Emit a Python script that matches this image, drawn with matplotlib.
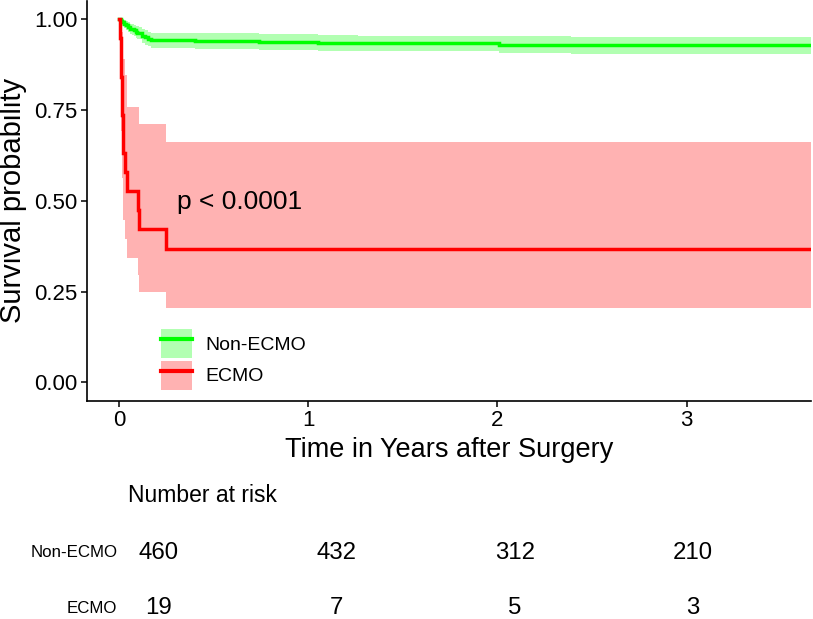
import matplotlib
matplotlib.use("Agg")
import matplotlib.pyplot as plt
from matplotlib.patches import Patch
from matplotlib.lines import Line2D

plt.rcParams["font.family"] = ["Liberation Sans", "DejaVu Sans"]

# Kaplan-Meier steps (time in years)
nonecmo_time = [0, 0.008, 0.016, 0.025, 0.035, 0.045, 0.055, 0.065, 0.075, 0.085,
                0.095, 0.106, 0.120, 0.135, 0.150, 0.168, 0.40, 0.74, 1.05, 1.26,
                2.01, 2.39, 3.66]
nonecmo_surv = [1.000, 0.996, 0.991, 0.987, 0.983, 0.978, 0.974, 0.972, 0.970, 0.965,
                0.963, 0.961, 0.954, 0.950, 0.946, 0.942, 0.940, 0.937, 0.935, 0.933,
                0.930, 0.928, 0.928]
nonecmo_upper = [1.000, 1.000, 1.000, 0.997, 0.995, 0.991, 0.988, 0.987, 0.985, 0.982,
                 0.980, 0.979, 0.973, 0.970, 0.966, 0.963, 0.962, 0.959, 0.957, 0.955,
                 0.953, 0.951, 0.951]
nonecmo_lower = [1.000, 0.990, 0.982, 0.977, 0.971, 0.965, 0.960, 0.957, 0.955, 0.949,
                 0.946, 0.944, 0.935, 0.930, 0.926, 0.921, 0.918, 0.915, 0.913, 0.911,
                 0.907, 0.905, 0.905]

ecmo_time = [0, 0.003, 0.006, 0.009, 0.012, 0.015, 0.018, 0.021, 0.029, 0.042,
             0.098, 0.103, 0.245, 3.66]
ecmo_surv = [1.0, 0.947, 0.895, 0.842, 0.789, 0.737, 0.684, 0.632, 0.579, 0.526,
             0.474, 0.421, 0.368, 0.368]
ecmo_upper = [1.0, 1.0, 1.0, 1.0, 0.995, 0.964, 0.928, 0.891, 0.846, 0.759,
              0.759, 0.711, 0.663, 0.663]
ecmo_lower = [1.0, 0.852, 0.767, 0.693, 0.626, 0.563, 0.504, 0.448, 0.394, 0.343,
              0.295, 0.249, 0.205, 0.205]

groups = ["Non-ECMO", "ECMO"]
line_colors = ["#00FF00", "#FF0000"]
risk_times = [0, 1, 2, 3]
risk_nonecmo = [460, 432, 312, 210]
risk_ecmo = [19, 7, 5, 3]
pval_text = "p < 0.0001"

W, H = 813, 619
fig = plt.figure(figsize=(W / 100, H / 100), dpi=100)

# main survival panel
ax = fig.add_axes([87.3 / W, 1 - 400.5 / H, (810.7 - 87.3) / W, (400.5 - 1) / H])
series = [
    (nonecmo_time, nonecmo_surv, nonecmo_lower, nonecmo_upper),
    (ecmo_time, ecmo_surv, ecmo_lower, ecmo_upper),
]
for (t, s, lo, up), col in zip(series, line_colors):
    ax.fill_between(t, lo, up, step="post", color=col, alpha=0.3, lw=0)
    ax.step(t, s, where="post", color=col, lw=2.5, solid_joinstyle="miter")

ax.set_xlim(-0.17, 3.657)
ax.set_ylim(-0.05, 1.05)
ax.set_xticks(risk_times)
ax.set_yticks([0, 0.25, 0.5, 0.75, 1.0])
ax.set_yticklabels(["0.00", "0.25", "0.50", "0.75", "1.00"])
for sp in ["top", "right"]:
    ax.spines[sp].set_visible(False)
for sp in ["left", "bottom"]:
    ax.spines[sp].set_linewidth(1.2)
ax.tick_params(labelsize=16, length=4, width=1.1, pad=3, colors="black")
ax.set_xlabel("Time in Years after Surgery", fontsize=19.5)
ax.set_ylabel("Survival probability", fontsize=21)
ax.xaxis.set_label_coords(0.5, -0.124)
ax.xaxis.label.set_va("center")
ax.yaxis.set_label_coords(-0.103, 0.5)
ax.yaxis.label.set_va("center")

ax.text(0.306, 0.497, pval_text, fontsize=19, ha="left", va="center")

handles = [
    (Patch(facecolor=c, alpha=0.3, edgecolor="none"), Line2D([], [], color=c, lw=3))
    for c in line_colors
]
ax.legend(handles, groups, loc="upper left", bbox_to_anchor=(0.1015, 0.179),
          frameon=False, fontsize=14, handlelength=1.6, handleheight=1.91,
          labelspacing=0.15, handletextpad=0.69, borderpad=0, borderaxespad=0)

# number-at-risk table
tab = fig.add_axes([120 / W, 1 - 619 / H, 690 / W, 149 / H])
tab.set_xlim(-0.216, 3.656)
tab.set_ylim(-0.19, 2.49)
tab.axis("off")
tab.text(-0.169, 2.04, "Number at risk", fontsize=16.5, ha="left", va="center")
for row, (name, vals) in enumerate(zip(groups, [risk_nonecmo, risk_ecmo])):
    y = 1 - row
    tab.text(-0.231, y, name, fontsize=12.2, ha="right", va="center", clip_on=False)
    for t, v in zip(risk_times, vals):
        tab.text(t, y, str(v), fontsize=17.3, ha="center", va="center")

fig.savefig("out.png", dpi=100, facecolor="white")
